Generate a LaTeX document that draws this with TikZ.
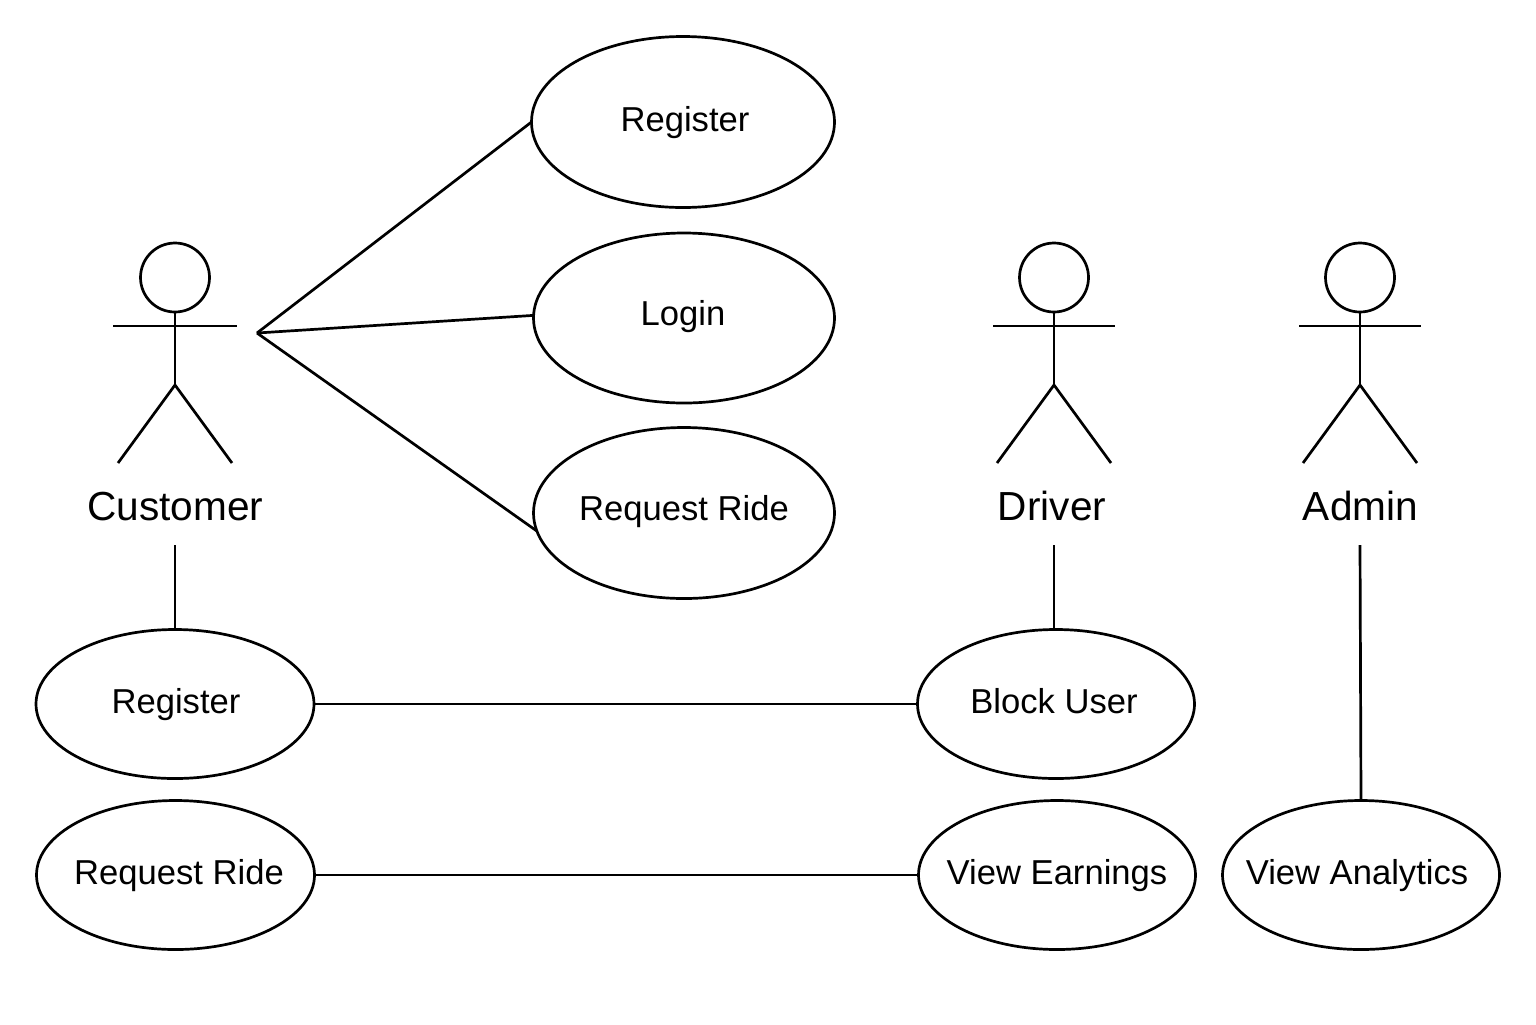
\documentclass[tikz,border=0pt]{standalone}
\usepackage{fontspec}
\setmainfont{Liberation Sans}
\usetikzlibrary{shapes.geometric}
\tikzset{
	usecase/.style={draw=black, ellipse, line width=1.35pt, inner sep=0, outer sep=0},
	casetext/.style={anchor=base, inner sep=0, font=\fontsize{17.3}{20}\selectfont},
	actortext/.style={anchor=base, inner sep=0, font=\fontsize{20.3}{24}\selectfont},
	head/.style={draw=black, circle, line width=1.35pt, minimum size=34.5pt, inner sep=0, outer sep=0},
	link/.style={line width=1.35pt}
}
\begin{document}
\begin{tikzpicture}[x=0.5pt, y=-0.5pt]
	\useasboundingbox (0,0) rectangle (1536,1024);

	% use cases: name / centre / half axes (pt) / text position / text
	\foreach \n/\x/\y/\w/\h/\tx/\ty/\t in {
		ra/683/122/151.5/85.5/685/131/Register,
		rb/684/318/150.5/85/683/325/Login,
		rc/684/513/150.5/85.5/684/520/Request Ride,
		rd/175/704/139/74.5/176/713/Register,
		re/175.5/875/139/74.5/179/884/Request Ride,
		dl/1056/704/138.5/74.5/1054/713/Block User,
		dm/1057/875/138.5/74.5/1057/884/View Earnings,
		am/1361/875/138.5/74.5/1357/884/View Analytics}
	{
		\node[usecase, minimum width=\w pt, minimum height=\h pt] (\n) at (\x,\y) {};
		\node[casetext] (t\n) at (\tx,\ty) {\t};
	}

	% actors
	\foreach \n/\x/\lx/\t/\a/\l in {cust/175/175.5/Customer/62/57, driver/1054/1052/Driver/61/57, admin/1360/1360.5/Admin/61/57}
	{
		\node[head] (head\n) at (\x,277.5) {};
		\coordinate (hip\n) at (\x,385);
		\coordinate (arml\n) at (\x-\a,326);
		\coordinate (armr\n) at (\x+\a,326);
		\coordinate (legl\n) at (\x-\l,463);
		\coordinate (legr\n) at (\x+\l,463);
		\coordinate (foot\n) at (\x,545);
		\node[actortext] (name\n) at (\lx,520) {\t};
		\draw[link] (head\n.south) -- (hip\n);
		\draw[link] (arml\n) -- (armr\n);
		\draw[link] (legl\n) -- (hip\n) -- (legr\n);
	}

	\coordinate (hub) at (257,333);
	\draw[link] (hub) -- (ra.west);
	\draw[link] (hub) -- (rb.179);
	\draw[link] (hub) -- (rc.187);

	\draw[link] (footcust) -- (rd.north -| footcust);
	\draw[link] (footdriver) -- (dl.north -| footdriver);
	\draw[link] (footadmin) -- (am.north);

	\draw[link] (rd) -- (dl);
	\draw[link] (re) -- (dm);
\end{tikzpicture}
\end{document}
